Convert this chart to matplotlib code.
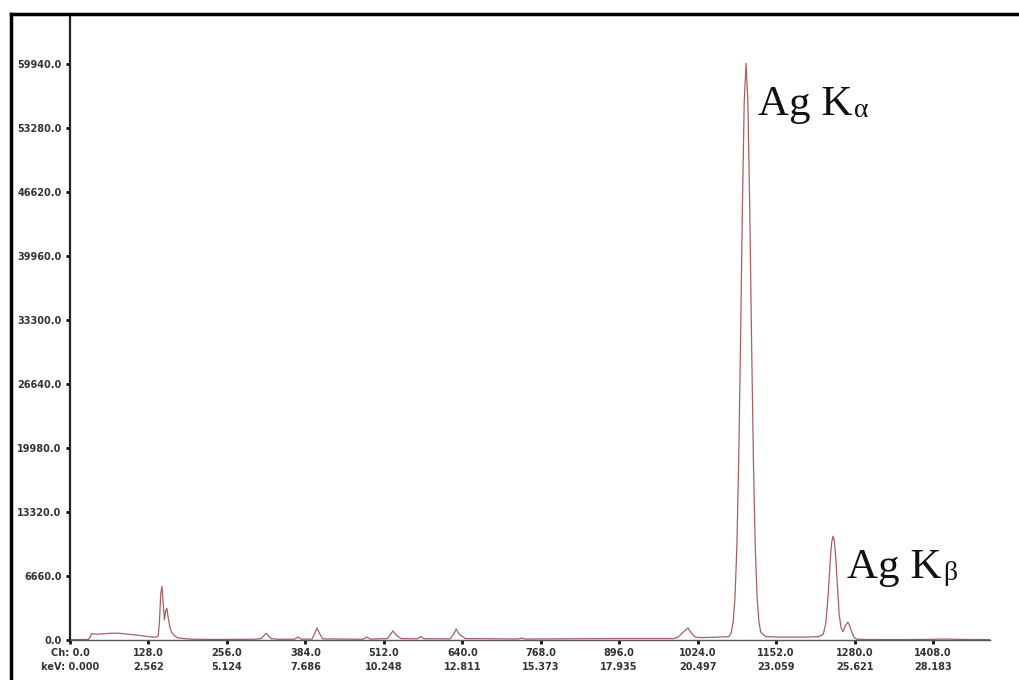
import matplotlib
matplotlib.use("Agg")
import matplotlib.pyplot as plt
from matplotlib.lines import Line2D

plt.rcParams.update({"font.family": "DejaVu Sans"})

# spectrum: channel -> counts
channel = [0, 10, 20, 30, 33, 35, 45, 55, 65, 80, 95, 110, 125, 135, 140, 144,
           146, 148, 150, 152, 154, 156, 158, 160, 163, 166, 170, 175, 185, 200,
           230, 260, 300, 312, 320, 328, 340, 366, 372, 378, 395, 400, 403, 407,
           412, 440, 478, 484, 490, 518, 523, 527, 532, 540, 566, 572, 578, 620,
           626, 630, 635, 645, 700, 731, 737, 743, 800, 900, 960, 985, 992, 1000,
           1008, 1014, 1020, 1030, 1060, 1075, 1079, 1082, 1085, 1088, 1091, 1094,
           1097, 1100, 1103, 1106, 1109, 1112, 1115, 1118, 1121, 1124, 1127, 1135,
           1160, 1200, 1222, 1229, 1233, 1237, 1239, 1241, 1243, 1245, 1247, 1249,
           1251, 1253, 1255, 1258, 1261, 1265, 1269, 1272, 1275, 1279, 1284, 1300,
           1350, 1400, 1430, 1450, 1501]
counts = [40, 40, 50, 60, 300, 650, 600, 650, 700, 700, 600, 500, 380, 300, 300, 400,
          2000, 4800, 5600, 3800, 2100, 3000, 3300, 2400, 1300, 800, 450, 250, 150, 80,
          60, 60, 80, 150, 700, 150, 80, 80, 300, 80, 100, 800, 1250, 700,
          120, 100, 80, 300, 100, 150, 600, 950, 500, 150, 120, 350, 130, 120,
          600, 1150, 600, 150, 120, 100, 200, 100, 120, 150, 150, 150, 300, 800,
          1250, 700, 300, 250, 300, 350, 800, 1900, 4500, 9700, 18700, 31100,
          44900, 56000, 60000, 56000, 44900, 31100, 18700, 9700, 4500, 1900, 800, 350,
          300, 300, 350, 600, 1700, 4700, 6800, 8900, 10300, 10800, 10300, 8900,
          6800, 4700, 2600, 1300, 850, 1500, 1850, 1500, 900, 300, 80, 50,
          40, 60, 100, 60, 40]

x_ticks = [0, 128, 256, 384, 512, 640, 768, 896, 1024, 1152, 1280, 1408]
kev_labels = ["0.000", "2.562", "5.124", "7.686", "10.248", "12.811", "15.373",
              "17.935", "20.497", "23.059", "25.621", "28.183"]
y_ticks = [0, 6660, 13320, 19980, 26640, 33300, 39960, 46620, 53280, 59940]

fig = plt.figure(figsize=(10.2, 6.8), dpi=100)
ax = fig.add_axes([70/1020, 40/680, 920/1020, 625/680])

ax.plot(channel, counts, color="#a86060", lw=0.9)

ax.set_xlim(0, 1501)
ax.set_ylim(0, 65040)
ax.spines["top"].set_visible(False)
ax.spines["right"].set_visible(False)
ax.spines["left"].set_color("#222222"); ax.spines["left"].set_linewidth(1.6)
ax.spines["bottom"].set_color("#555555"); ax.spines["bottom"].set_linewidth(1.0)

xl = []
for c, k in zip(x_ticks, kev_labels):
    if c == 0:
        xl.append("Ch: 0.0\nkeV: " + k)
    else:
        xl.append(f"{c:.1f}\n{k}")
ax.set_xticks(x_ticks)
ax.set_xticklabels(xl, fontsize=7, fontweight="bold", color="#333333", linespacing=1.5)
ax.set_yticks(y_ticks)
ax.set_yticklabels([f"{v:.1f}" for v in y_ticks], fontsize=7, fontweight="bold", color="#333333")
ax.tick_params(axis="both", length=3, width=2, color="#111111", pad=3)

# peak labels: "Ag K" plus a small upright greek subscript
for x, y, sub in [(1122, 54630, "α"), (1268, 6450, "β")]:
    t = ax.text(x, y, "Ag K", family="Liberation Serif", fontsize=31, color="#111111")
    ax.annotate(sub, xy=(1, 0), xycoords=t, xytext=(1, 5), textcoords="offset points",
                family="Liberation Serif", fontsize=20, color="#111111",
                ha="left", va="baseline")

# outer frame (top and left edges only)
fig.add_artist(Line2D([11/1020, 1], [1 - 14/680, 1 - 14/680], color="black", lw=2.5,
                      transform=fig.transFigure))
fig.add_artist(Line2D([11/1020, 11/1020], [0, 1 - 14/680], color="black", lw=2.5,
                      transform=fig.transFigure))

fig.savefig("out.png", dpi=100, facecolor="white")
